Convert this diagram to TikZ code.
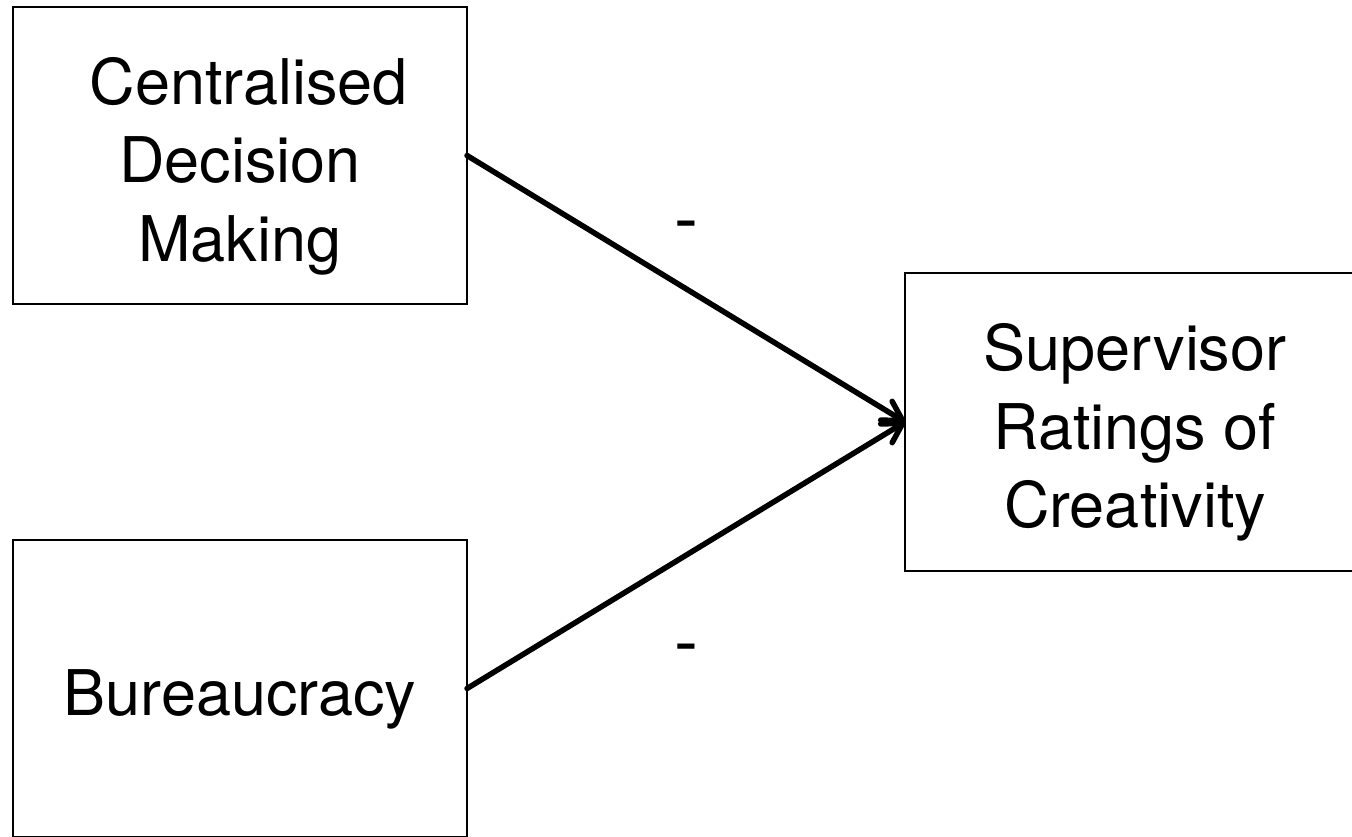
\documentclass[tikz,border=0pt]{standalone}
\usepackage{fontspec}
\setmainfont{TeX Gyre Heros}
\usetikzlibrary{arrows.meta}

% taller first line, so the text sits a little below the box centre
\newcommand{\topstrut}{\rule{0pt}{68pt}}

\tikzset{
  factor/.style={draw=black, line width=2pt, fill=white, inner sep=0pt, outer sep=0pt,
    align=center, font=\fontsize{63}{78.5}\selectfont},
  conn/.style={line width=5.5pt, line cap=round,
    -{Straight Barb[length=19pt, width=22pt, line width=5.5pt, round]}},
  sign/.style={font=\fontsize{72}{80}\selectfont, inner sep=0pt, anchor=base}
}

\begin{document}
\begin{tikzpicture}[x=1pt, y=-1pt]
  \useasboundingbox (0,0) rectangle (1352,836);

  % predictor boxes (left) and outcome box (right)
  \node[factor, minimum width=454pt, minimum height=297pt] (cdm) at (240,155.5)
    {\topstrut\hspace*{0.28em}Centralised\\Decision\\Making};
  \node[factor, minimum width=454pt, minimum height=297pt] (bur) at (240,688.5)
    {\topstrut Bureaucracy};
  \node[factor, minimum width=460pt, minimum height=298pt] (sup) at (1135,422)
    {\topstrut Supervisor\\Ratings of\\Creativity};

  % negative paths
  \draw[conn] (cdm.east) -- (sup.west);
  \draw[conn] (bur.east) -- (sup.west);

  \node[sign] (s1) at (686,243) {-};
  \node[sign] (s2) at (686,666) {-};
\end{tikzpicture}
\end{document}
